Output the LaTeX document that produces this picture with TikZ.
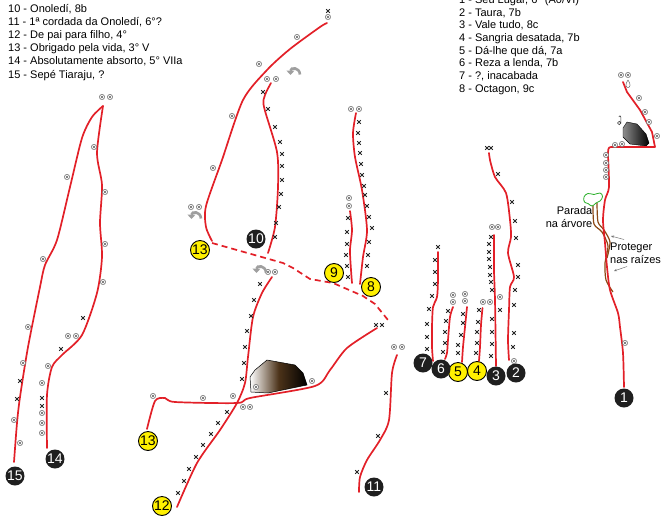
\documentclass[tikz,border=0pt]{standalone}
\usepackage{fontspec}
\setmainfont{Liberation Sans}
\usetikzlibrary{arrows.meta}
\definecolor{routered}{RGB}{226,32,40}
\definecolor{markyellow}{RGB}{255,240,0}
\definecolor{treegreen}{RGB}{40,175,40}
\definecolor{trunkbrown}{RGB}{140,72,20}
% bolt and protection marks along the routes
\newcommand\boltset[1]{\foreach \bx/\by in {#1} {\pic at (\bx,\by) {bolt};}}
\newcommand\crossset[1]{\foreach \bx/\by in {#1} {\pic at (\bx,\by) {xmark};}}
\begin{document}
\begin{tikzpicture}[x=1pt,y=-1pt,
  route/.style={draw=routered, line width=1.7pt, line join=round, line cap=round},
  dashroute/.style={route, line cap=butt, dash pattern=on 6pt off 4pt},
  numblk/.style={circle, fill=black!88, text=white, minimum size=19pt, inner sep=0pt,
    font=\fontsize{14}{14}\selectfont},
  numyel/.style={circle, fill=markyellow, draw=black, line width=0.9pt, text=black,
    minimum size=19pt, inner sep=0pt, font=\fontsize{14}{14}\selectfont},
  lbl/.style={font=\fontsize{11}{13}\selectfont, inner sep=0pt, anchor=base west},
  note/.style={font=\fontsize{11}{13}\selectfont, inner sep=0pt},
  bolt/.pic={\draw[black!60, line width=0.45pt, fill=white] (0,0) circle[radius=2.7];
    \draw[black!60, line width=0.45pt] (-1.5,-1.5)--(1.5,1.5) (-1.5,1.5)--(1.5,-1.5);},
  xmark/.pic={\draw[black!85, line width=0.85pt] (-1.8,-1.8)--(1.8,1.8) (-1.8,1.8)--(1.8,-1.8);},
  turn/.pic={\draw[gray!75, line width=2.6pt, -{Triangle[length=4.5pt,width=8pt]}]
    (6,1.5) .. controls (5.5,-6) and (-3.5,-6) .. (-3.5,2);},
  sm/.style={smooth, tension=0.45}
]
\useasboundingbox (0,0) rectangle (662,515);

% ---------- route lists ----------
\node[lbl] (l10) at (8,12) {10 - Onoledí, 8b};
\node[lbl] (l11) at (8,25.2) {11 - 1ª cordada da Onoledí, 6°?};
\node[lbl] (l12) at (8,38.4) {12 - De pai para filho, 4°};
\node[lbl] (l13) at (8,51.6) {13 - Obrigado pela vida, 3° V};
\node[lbl] (l14) at (8,64.8) {14 - Absolutamente absorto, 5° VIIa};
\node[lbl] (l15) at (8,78) {15 - Sepé Tiaraju, ?};

\node[lbl] (r1) at (459,3.3) {1 - Seu Lugar, 6° (A0/VI)};
\node[lbl] (r2) at (459,16) {2 - Taura, 7b};
\node[lbl] (r3) at (459,28.7) {3 - Vale tudo, 8c};
\node[lbl] (r4) at (459,41.4) {4 - Sangria desatada, 7b};
\node[lbl] (r5) at (459,54) {5 - Dá-lhe que dá, 7a};
\node[lbl] (r6) at (459,66.7) {6 - Reza a lenda, 7b};
\node[lbl] (r7) at (459,79.4) {7 - ?, inacabada};
\node[lbl] (r8) at (459,92) {8 - Octagon, 9c};

% ---------- boulders ----------
\shade[left color=white, right color=black, middle color=black!60!brown, draw=black, line width=0.5pt]
  (267,360) -- (295,365) -- (303,373) -- (307,385) -- (268,393) -- (251,392) -- (250,377) -- (255,370) -- cycle;
\shade[left color=black!45, right color=black, draw=black, line width=0.4pt]
  (627,122) -- (637,124) -- (646,134) -- (649,143) -- (646,146) -- (630,144) -- (623,137) -- (623,128) -- cycle;

% ---------- tree belay (route 1) ----------
\draw[trunkbrown, line width=1.2pt] plot[sm] coordinates {(593,205) (594,224) (602,232) (608,246) (605,263) (606,280) (613,292)};
\draw[trunkbrown, line width=1.2pt] plot[sm] coordinates {(597,203) (598,222) (604,230) (610,242) (607,258)};
\draw[treegreen, line width=0.8pt, fill=white] plot[smooth cycle, tension=0.7] coordinates
  {(584,197) (588,193.5) (594,194.5) (600,193) (602.5,196.5) (600,201) (596,203) (592,206) (588,203.5) (584.5,202)};

% ---------- route 1 ----------
\draw[route] (623,82) -- (627,92) -- (640,110) -- (652,132) -- (655,147) -- (611,147)
  .. controls (608,147) and (608,150) .. (608,156);
\draw[route] plot[sm] coordinates {(608,156) (609,187) (605,200) (603,220) (605,243) (607,267) (610,290) (618,313) (620,327) (623,353) (624,387)};
\boltset{621/75,628/75,639/98,645/112,649/122,657/136,615/145,622/144,606/155,606/163,606/170,606/177,625/343}
\draw[black!60, line width=0.5pt] (628,80) .. controls (625,84) and (625.5,87.5) .. (628,87.5)
  .. controls (630.5,87.5) and (631,84) .. (628,80);
\draw[black!75, line width=0.6pt] (619.2,123) circle[radius=1.7] (620.8,122.3) -- (620.8,117) .. controls (620.8,115.5) and (619.2,115.5) .. (618.8,116.8);
\node[note, align=right, anchor=east] (tree) at (592.5,217.5) {Parada\\na árvore};
\node[note, align=left, anchor=west] (roots) at (610,253.5) {Proteger\\nas raízes};
\coordinate (ra) at (611,236);
\coordinate (rb) at (614,271);
\draw[black!55, line width=0.5pt, -{Stealth[length=3pt,width=2.5pt]}] (624,239.5) -- (ra);
\draw[black!55, line width=0.5pt, -{Stealth[length=3pt,width=2.5pt]}] (627,266.5) -- (rb);

% ---------- routes 2 to 7 ----------
\draw[route] plot[sm] coordinates {(489,153) (490,160) (495,177) (506,193) (510,220) (511,237) (508,253) (514,277) (510,287) (509,310) (508,340) (509,360)};
\crossset{487/148,491/148,498/174,512/202,515/221,516/238,518/265,518/277,515/290,514/305,514/333,513/347}
\boltset{514/361}

\draw[route] plot[sm] coordinates {(494,235) (494,270) (495,300) (496,366)};
\boltset{492/227,498/227,500/297}
\crossset{491/237,489/244,489/252,489/259,490/267,490/275,491/282,492/290,492/319,492/332,492/344,491/356,500/310}

\draw[route] plot[sm] coordinates {(482.5,308) (481,325) (480,347) (479,361)};
\boltset{483/302,490/302}
\crossset{479/310,478/322,477/332,477/343,476/353}

\draw[route] plot[sm] coordinates {(467,307) (465,327) (463,347) (462,362)};
\boltset{465/294,465/301}
\crossset{463/314,463/323,461/335,458/345,458/353}

\draw[route] plot[sm] coordinates {(453,307) (450,317) (448,340) (447,353) (445,359)};
\boltset{453/295,453/302}
\crossset{448/311,446/321,445/332,445/343,443/352}

\draw[route] plot[sm] coordinates {(438,252) (438,280) (437,297) (433,307) (432,327) (432,347) (433,361)};
\crossset{438/247,435/260,435/272,435/284,432/296,429/309,427/324,427/337,427/349}

% ---------- routes 8 and 9 ----------
\draw[route] plot[sm] coordinates {(356,113) (353,133) (355,157) (362,190) (367,230) (363,257) (360,284)};
\boltset{351/109,359/109}
\crossset{359/122,358/133,359/143,360/153,361/164,362/175,364/186,365/195,367/206,369/217,372/228,369/242,368/255,367/266}

\draw[route] plot[sm] coordinates {(350,211) (352,230) (350,250) (351,270) (352,283)};
\boltset{349/198,349/206}
\crossset{348/218,347/232,347/244,346/255,347/266,348/277}

% ---------- route 10 ----------
\draw[route] plot[sm] coordinates {(271,83) (265,95) (264,107) (277,152) (278,187) (275,227) (268,253)};
\boltset{267/79,276/79}
\crossset{263/92,268/109,275/127,280/142,282/154,282/166,282/180,281/194,279/207,276/223,275/237}
\pic at (294,73) {turn};

% ---------- route 13 (upper section and traverse) ----------
\draw[route] plot[sm] coordinates {(212,241) (206,227) (206,206) (222,160) (243,100) (267,70) (290,49) (320,27) (327,23)};
\boltset{328/17,297/37,259/64,232/116,213/168,191/207,199/207}
\crossset{328/11}
\pic at (195,217) {turn};
\draw[dashroute] (212,243) -- (283,263) -- (293,268) -- (310,279) -- (333,283) -- (363,296) -- (375,304) -- (388,320);

% ---------- route 12 ----------
\draw[route] plot[sm] coordinates {(272,277) (262,293) (253,317) (248,357) (245,383) (237,403) (220,430) (197,463) (177,507)};
\boltset{268/272,275/272,243/407,250/407}
\crossset{260/284,254/300,251/316,247/331,245/347,244/363,242/379,227/412,218/423,211/434,203/445,196/457,189/469,184/481,178/493}
\pic at (260,271) {turn};

% ---------- route 13 (lower section) ----------
\draw[route] plot[sm] coordinates {(147,429) (155,401) (165,398) (175,402) (237,403) (250,398) (315,386) (330,370) (347,348) (377,328)};
\boltset{153/396,203/398,233/396,312/381,256/387}
\crossset{376/325,382/325}

% ---------- route 11 ----------
\draw[route] plot[sm] coordinates {(397,355) (392,373) (389,420) (380,440) (367,460) (360,477) (359,492)};
\boltset{394/347,402/347}
\crossset{386/393,378/436,357/472}

% ---------- routes 14 and 15 ----------
\draw[route] plot[sm] coordinates {(14,462) (17,423) (20,397) (28,347) (40,287) (45,265) (57,240) (70,187) (82,138) (92,117) (103,106)};
\draw[route] plot[sm] coordinates {(103,106) (97,153) (102,185) (100,223) (102,257) (97,293) (82,335) (62,355) (52,367) (47,395) (47,448)};
\boltset{102/97,110/97,67/177,43/259,28/327,23/363,14/420,20/443}
\crossset{20/381,17/399}
\boltset{94/147,105/192,105/244,103/282,68/336,76/336,48/366,42/383,42/413,42/423,42/433}
\crossset{83/318,61/349,42/398,42/406}

% ---------- route numbers ----------
\node[numblk] (n1) at (624,398) {1};
\node[numblk] (n2) at (516,373) {2};
\node[numblk] (n3) at (496,376) {3};
\node[numyel] (n4) at (477,371) {4};
\node[numyel] (n5) at (458,372) {5};
\node[numblk] (n6) at (441,369) {6};
\node[numblk] (n7) at (423,363) {7};
\node[numyel] (n8) at (371,287) {8};
\node[numyel] (n9) at (334,273) {9};
\node[numblk] (n10) at (256,239) {10};
\node[numyel] (n13a) at (200,250) {13};
\node[numyel] (n13b) at (148,441) {13};
\node[numyel] (n12) at (162,506) {12};
\node[numblk] (n11) at (374,487) {11};
\node[numblk] (n14) at (55,459) {14};
\node[numblk] (n15) at (15,476) {15};
\end{tikzpicture}
\end{document}
